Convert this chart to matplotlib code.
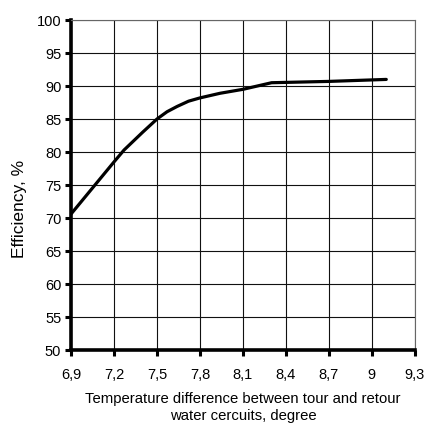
import matplotlib
matplotlib.use("Agg")
import matplotlib.pyplot as plt

plt.rcParams['font.family'] = ['Liberation Sans', 'DejaVu Sans']

temp_diff = [6.9, 7.2, 7.27, 7.4, 7.5, 7.57, 7.64, 7.72, 7.8, 7.94, 8.1, 8.3, 8.7, 9.1]
efficiency = [70.6, 78.5, 80.3, 83.0, 85.0, 86.1, 86.9, 87.7, 88.2, 88.9, 89.5, 90.5, 90.7, 91.0]

x_ticks = [6.9, 7.2, 7.5, 7.8, 8.1, 8.4, 8.7, 9.0, 9.3]
x_tick_labels = ["6,9", "7,2", "7,5", "7,8", "8,1", "8,4", "8,7", "9", "9,3"]
y_ticks = [50, 55, 60, 65, 70, 75, 80, 85, 90, 95, 100]

fig = plt.figure(figsize=(4.26, 4.26), dpi=100)
ax = fig.add_axes([0.1667, 0.1784, 0.974 - 0.1667, 0.953 - 0.1784])

ax.plot(temp_diff, efficiency, color='black', linewidth=2.3,
        solid_capstyle='round', solid_joinstyle='round')

ax.set_xlim(6.9, 9.3)
ax.set_ylim(50, 100)
ax.set_xticks(x_ticks)
ax.set_xticklabels(x_tick_labels)
ax.set_yticks(y_ticks)

ax.grid(True, color='#111111', linewidth=0.8)
ax.set_axisbelow(True)

for s in ['top', 'right']:
    ax.spines[s].set_linewidth(0.8)
    ax.spines[s].set_color('#666666')
for s in ['left', 'bottom']:
    ax.spines[s].set_linewidth(2.6)
    ax.spines[s].set_color('black')

ax.tick_params(axis='both', direction='out', length=4, width=2.2, labelsize=10.5, colors='black')
ax.tick_params(axis='x', pad=9)
ax.tick_params(axis='y', pad=3)

ax.set_ylabel("Efficiency, %", fontsize=12.5)
ax.yaxis.set_label_coords(-0.128, 0.427)
ax.set_xlabel("Temperature difference between tour and retour\nwater cercuits, degree",
              fontsize=10.7, labelpad=7, linespacing=1.3)

fig.savefig("out.png", dpi=100)
